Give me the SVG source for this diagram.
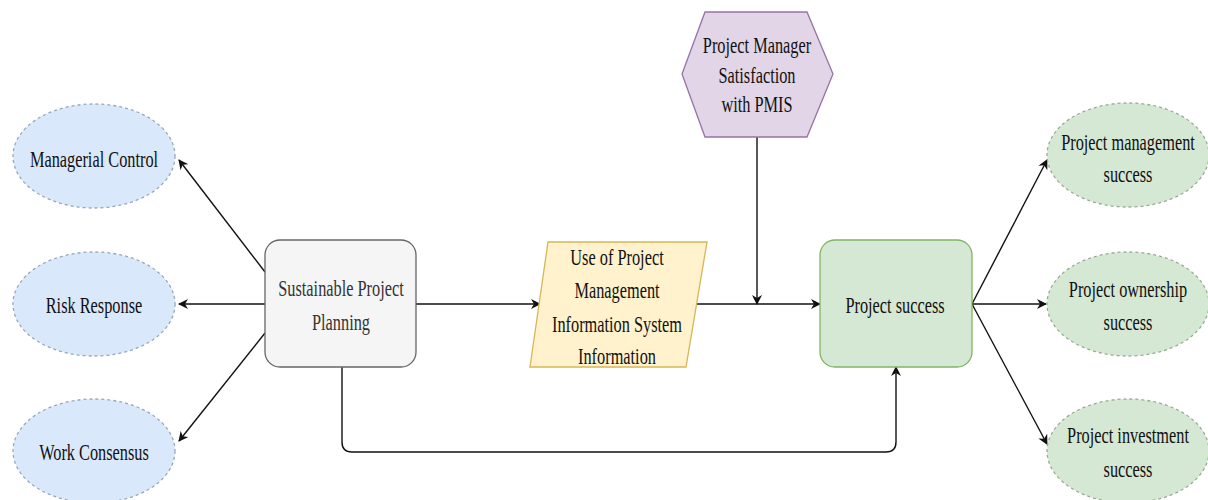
<svg xmlns="http://www.w3.org/2000/svg" width="1208" height="500" viewBox="0 0 1208 500">
<style>
text{font-family:"Liberation Serif","Times New Roman",serif;font-size:24px;fill:#111;text-anchor:middle}
.blue{fill:#dae8fc;stroke:#9aa6b8;stroke-width:1.3;stroke-dasharray:3 3}
.green{fill:#d5e8d4;stroke:#9aaa96;stroke-width:1.3;stroke-dasharray:3 3}
.edge{fill:none;stroke:#111;stroke-width:1.4;marker-end:url(#arr)}
</style>
<defs>
<marker id="arr" viewBox="0 0 10 10" refX="9" refY="5" markerWidth="10" markerHeight="10" markerUnits="userSpaceOnUse" orient="auto">
<path d="M0,0 L10,5 L0,10 L3,5 Z" fill="#111"/>
</marker>
</defs>
<rect width="1208" height="500" fill="#fff"/>
<g id="connectors">
<path class="edge" d="M265,272 L179,160"/>
<path class="edge" d="M265,304 L179,304"/>
<path class="edge" d="M265,333 L179,441"/>
<path class="edge" d="M416,304 L540,304"/>
<path class="edge" d="M696,304 L820,304"/>
<path class="edge" d="M757,137 L757,304"/>
<path class="edge" d="M342,367 L342,442 Q342,452 352,452 L886,452 Q896,452 896,442 L896,367"/>
<path class="edge" d="M972,304 L1047,160"/>
<path class="edge" d="M972,304 L1046,304"/>
<path class="edge" d="M972,304 L1047,444"/>
</g>
<g id="managerial-control">
<ellipse class="blue" cx="94" cy="156" rx="81" ry="52"/>
<text transform="translate(94,167) scale(0.68,1)">Managerial Control</text>
</g>
<g id="risk-response">
<ellipse class="blue" cx="94" cy="304" rx="81" ry="52"/>
<text transform="translate(94,313) scale(0.68,1)">Risk Response</text>
</g>
<g id="work-consensus">
<ellipse class="blue" cx="94" cy="451" rx="81" ry="52"/>
<text transform="translate(94,460) scale(0.68,1)">Work Consensus</text>
</g>
<g id="sustainable-planning">
<rect x="265" y="240" width="151" height="127" rx="15" fill="#f5f5f5" stroke="#666" stroke-width="1.3"/>
<text transform="translate(341,296) scale(0.68,1)" style="fill:#333">Sustainable Project</text>
<text transform="translate(341,330) scale(0.68,1)" style="fill:#333">Planning</text>
</g>
<g id="pmis-use">
<polygon points="548,242 707,242 686,367 530,367" fill="#fff2cc" stroke="#d6b656" stroke-width="1.3"/>
<text transform="translate(617,265) scale(0.68,1)">Use of Project</text>
<text transform="translate(617,298) scale(0.68,1)">Management</text>
<text transform="translate(617,332) scale(0.68,1)">Information System</text>
<text transform="translate(617,364) scale(0.68,1)">Information</text>
</g>
<g id="pm-satisfaction">
<polygon points="705,12 807,12 833,74 807,137 705,137 682,74" fill="#e1d5e7" stroke="#9673a6" stroke-width="1.3"/>
<text transform="translate(757,53) scale(0.68,1)">Project Manager</text>
<text transform="translate(757,83) scale(0.68,1)">Satisfaction</text>
<text transform="translate(757,112) scale(0.68,1)">with PMIS</text>
</g>
<g id="project-success">
<rect x="820" y="240" width="152" height="127" rx="15" fill="#d5e8d4" stroke="#82b366" stroke-width="1.3"/>
<text transform="translate(895,313) scale(0.68,1)">Project success</text>
</g>
<g id="pm-success">
<ellipse class="green" cx="1128" cy="155" rx="81" ry="52"/>
<text transform="translate(1128,150) scale(0.68,1)">Project management</text>
<text transform="translate(1128,182) scale(0.68,1)">success</text>
</g>
<g id="ownership-success">
<ellipse class="green" cx="1128" cy="304" rx="81" ry="52"/>
<text transform="translate(1128,297) scale(0.68,1)">Project ownership</text>
<text transform="translate(1128,330) scale(0.68,1)">success</text>
</g>
<g id="investment-success">
<ellipse class="green" cx="1128" cy="451" rx="81" ry="52"/>
<text transform="translate(1128,443) scale(0.68,1)">Project investment</text>
<text transform="translate(1128,477) scale(0.68,1)">success</text>
</g>
</svg>
